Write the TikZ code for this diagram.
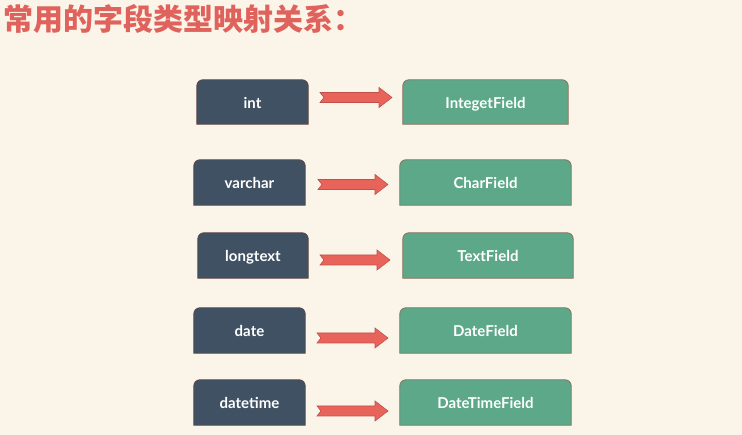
\documentclass[tikz,border=0pt]{standalone}
\usepackage{fontspec}
\setmainfont{Lato}
\newfontfamily\cjk{Noto Sans CJK SC}
\usetikzlibrary{calc,backgrounds}
\definecolor{bgcream}{HTML}{FBF5E9}
\definecolor{leftfill}{HTML}{3F5163}
\definecolor{leftline}{HTML}{5E4444}
\definecolor{rightfill}{HTML}{5CA889}
\definecolor{rightline}{HTML}{86705E}
\definecolor{arrfill}{HTML}{E8645B}
\definecolor{arrline}{HTML}{C2504A}
\definecolor{titlered}{HTML}{E0625C}
\tikzset{
  lbox/.style={inner sep=0pt, text=white, font=\bfseries\fontsize{15}{18}\selectfont, text height=13pt, text depth=0pt, minimum height=45pt},
  rbox/.style={inner sep=0pt, text=white, font=\bfseries\fontsize{15}{18}\selectfont, text height=13pt, text depth=0pt, minimum height=45pt},
  lshape/.style={fill=leftfill, draw=leftline, line width=0.8pt},
  rshape/.style={fill=rightfill, draw=rightline, line width=0.8pt},
  arrowsty/.style={fill=arrfill, draw=arrline, line width=0.6pt, line join=miter},
}
\newcommand\tabshape[2]{%
  \draw[#2] (#1.south west) -- ([yshift=-6pt]#1.north west)
    arc[start angle=180,end angle=90,radius=6pt]
    -- ([xshift=-6pt]#1.north east)
    arc[start angle=90,end angle=0,radius=6pt]
    -- (#1.south east) -- cycle;}
\newcommand\blockarrow[2]{%
  \draw[arrowsty] let \p1=(#1), \p2=(#2) in
    (\x1,\y1+5pt) -- (\x2-13pt,\y1+5pt) -- (\x2-13pt,\y1+10pt) -- (\x2,\y1)
    -- (\x2-13pt,\y1-10pt) -- (\x2-13pt,\y1-5pt) -- (\x1,\y1-5pt) -- (\x1+4pt,\y1) -- cycle;}
\begin{document}
\begin{tikzpicture}[x=1pt,y=1pt]
\useasboundingbox (0,0) rectangle (742,435);
% title
\node[anchor=base west, inner sep=0pt, text=titlered, font=\cjk\bfseries\fontsize{30}{34}\selectfont] (title) at (3,404) {常用的字段类型映射关系：};
% left boxes
\node[lbox, minimum width=111pt, minimum height=44pt] (l1) at (252.5,333) {int};
\node[lbox, minimum width=111pt] (l2) at (249.5,252.5) {varchar};
\node[lbox, minimum width=110pt] (l3) at (253,179.5) {longtext};
\node[lbox, minimum width=111pt] (l4) at (249.5,104.5) {date};
\node[lbox, minimum width=111pt] (l5) at (249.5,32.5) {datetime};
% right boxes
\node[rbox, minimum width=165pt, minimum height=44pt] (r1) at (485.5,333) {IntegetField};
\node[rbox, minimum width=171pt] (r2) at (485.5,252.5) {CharField};
\node[rbox, minimum width=170pt] (r3) at (488,179.5) {TextField};
\node[rbox, minimum width=171pt] (r4) at (485.5,104.5) {DateField};
\node[rbox, minimum width=171pt] (r5) at (485.5,32.5) {DateTimeField};
% arrow ends
\coordinate (a1s) at (320,337.5); \coordinate (a1e) at (392,337.5);
\coordinate (a2s) at (318,250.5); \coordinate (a2e) at (388,250.5);
\coordinate (a3s) at (320,175);   \coordinate (a3e) at (390,175);
\coordinate (a4s) at (317,97);    \coordinate (a4e) at (388,97);
\coordinate (a5s) at (317,24);    \coordinate (a5e) at (388,24);
\blockarrow{a1s}{a1e}
\blockarrow{a2s}{a2e}
\blockarrow{a3s}{a3e}
\blockarrow{a4s}{a4e}
\blockarrow{a5s}{a5e}
\begin{pgfonlayer}{background}
\fill[bgcream] (0,0) rectangle (742,435);
\tabshape{l1}{lshape}\tabshape{l2}{lshape}\tabshape{l3}{lshape}\tabshape{l4}{lshape}\tabshape{l5}{lshape}
\tabshape{r1}{rshape}\tabshape{r2}{rshape}\tabshape{r3}{rshape}\tabshape{r4}{rshape}\tabshape{r5}{rshape}
\end{pgfonlayer}
\end{tikzpicture}
\end{document}
